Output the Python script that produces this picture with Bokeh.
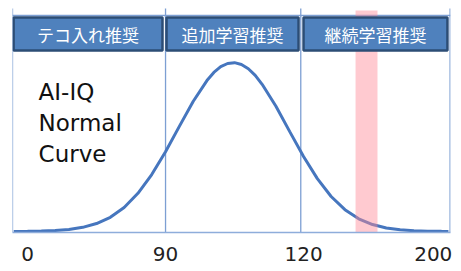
from bokeh.plotting import figure
from bokeh.models import FixedTicker, ColumnDataSource
from bokeh.core.properties import value
from bokeh.embed import file_html
from bokeh.resources import INLINE

# ---- data ----
tick_pos = [0, 1, 2, 2.94]
tick_labels = ["0", "90", "120", "200"]

curve_x = [-0.1, 0.0, 0.1, 0.2, 0.3, 0.4, 0.5, 0.6, 0.7, 0.8, 0.9, 1.0, 1.1, 1.2, 1.3,
           1.35, 1.4, 1.45, 1.5, 1.55, 1.6, 1.65, 1.7, 1.8, 1.9, 2.0, 2.1, 2.2, 2.3,
           2.4, 2.5, 2.6, 2.7, 2.8, 2.9, 3.0, 3.05]
curve_y = [0.0004, 0.001, 0.0024, 0.0055, 0.012, 0.0245, 0.047, 0.084, 0.142, 0.226,
           0.337, 0.472, 0.622, 0.769, 0.893, 0.941, 0.975, 0.994, 0.999, 0.988, 0.963,
           0.924, 0.871, 0.741, 0.591, 0.444, 0.313, 0.207, 0.129, 0.075, 0.041, 0.021,
           0.010, 0.0047, 0.002, 0.0008, 0.0005]

section_labels = ["テコ入れ推奨", "追加学習推奨", "継続学習推奨"]
section_left = [-0.101, 1.007, 2.0]
section_right = [0.978, 1.964, 3.043]
divider_x = [-0.109, 1.0, 1.98, 3.062]
highlight = (2.377, 2.536)

x0, x1 = -0.109, 3.065
y0, y1 = -0.006, 1.3195

p = figure(frame_width=438, frame_height=224, x_range=(x0, x1), y_range=(y0, y1),
           output_backend="svg", toolbar_location=None,
           min_border_left=12, min_border_right=8, min_border_top=8, min_border_bottom=35)
p.outline_line_color = None
p.grid.visible = False
p.yaxis.visible = False
p.background_fill_color = "white"
p.border_fill_color = "white"

ax = p.xaxis[0]
ax.ticker = FixedTicker(ticks=tick_pos)
ax.major_label_overrides = {t: l for t, l in zip(tick_pos, tick_labels)}
ax.major_tick_line_color = None
ax.minor_tick_line_color = None
ax.major_tick_out = 0
ax.major_label_standoff = 14
ax.major_label_text_font = "DejaVu Sans"
ax.major_label_text_font_size = "20px"
ax.major_label_text_color = "#222222"
ax.axis_line_color = "#8eaddb"
ax.axis_line_width = 1.5

# vertical dividers
p.segment(x0=divider_x, y0=[y0] * 4, x1=divider_x, y1=[1.33] * 4,
          line_color="#7d9fd3", line_width=1.3)
# top line
p.segment(x0=[x0], y0=[1.278], x1=[x1], y1=[1.278], line_color="#7d9fd3", line_width=1.3)

# curve
p.line(curve_x, curve_y, line_color="#4676be", line_width=3)

# highlight band
p.quad(left=[highlight[0]], right=[highlight[1]], bottom=[y0], top=[1.308],
       fill_color="#ff8a96", fill_alpha=0.45, line_color=None)

# header boxes
src = ColumnDataSource(dict(left=section_left, right=section_right,
                            cx=[(a + b) / 2 for a, b in zip(section_left, section_right)],
                            label=section_labels))
p.quad(left="left", right="right", bottom=1.071, top=1.266, source=src,
       fill_color="#4f81bd", line_color="#2c4d75", line_width=2.5)
p.text(x="cx", y=1.166, text="label", source=src, text_color="white",
       text_font=value("Noto Sans CJK JP"), text_font_size="17px",
       text_align="center", text_baseline="middle")

# title text
p.text(x=[0.08], y=[0.905], text=["AI-IQ\nNormal\nCurve"], text_color="#111111",
       text_font=value("DejaVu Sans"), text_font_size="23px",
       text_align="left", text_baseline="top", text_line_height=1.2)

open("out.html", "w").write(file_html(p, INLINE))
